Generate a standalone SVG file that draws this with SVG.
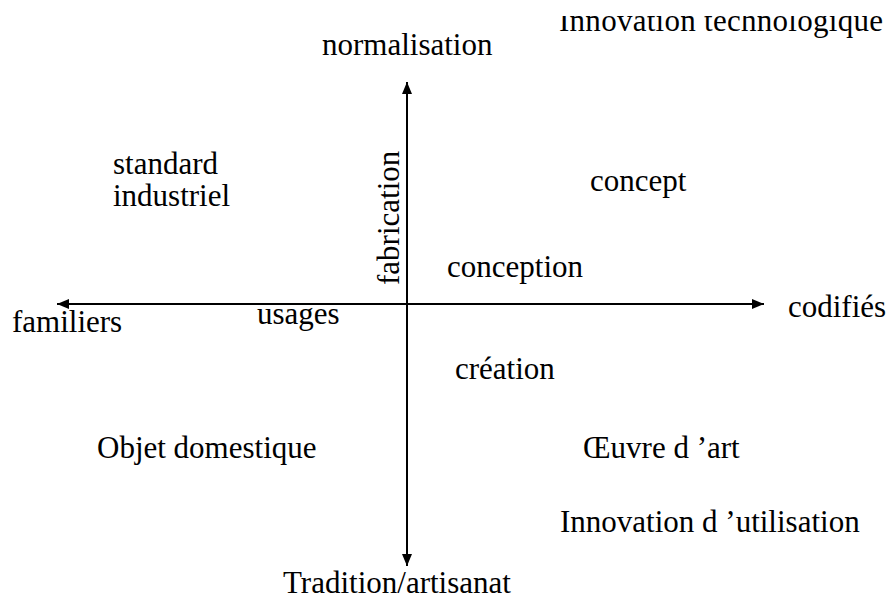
<svg xmlns="http://www.w3.org/2000/svg" width="892" height="600" viewBox="0 0 892 600">
<style>
text{font-family:"Liberation Serif","Times New Roman",serif;font-size:31px;fill:#000}
.axis{stroke:#000;stroke-width:2;fill:none}
</style>
<defs>
<marker id="arr" markerWidth="12" markerHeight="10" refX="12" refY="5" orient="auto" markerUnits="userSpaceOnUse">
<path d="M0,0 L12,5 L0,10 Z" fill="#000"/>
</marker>
<clipPath id="topclip"><rect x="0" y="16" width="892" height="40"/></clipPath>
</defs>
<rect width="892" height="600" fill="#fff"/>
<g id="connectors">
<line class="axis" x1="407" y1="304" x2="57" y2="304" marker-end="url(#arr)"/>
<line class="axis" x1="407" y1="304" x2="764" y2="304" marker-end="url(#arr)"/>
<line class="axis" x1="407" y1="304" x2="407" y2="82" marker-end="url(#arr)"/>
<line class="axis" x1="407" y1="304" x2="407" y2="566" marker-end="url(#arr)"/>
</g>
<g id="innovation-techno" clip-path="url(#topclip)"><text x="559" y="31" textLength="324">Innovation technologique</text></g>
<g id="normalisation"><text x="322" y="55">normalisation</text></g>
<g id="standard"><text x="113" y="174">standard</text><text x="113" y="206">industriel</text></g>
<g id="fabrication"><text transform="translate(399,285) rotate(-90)">fabrication</text></g>
<g id="concept"><text x="590" y="191">concept</text></g>
<g id="conception"><text x="447" y="277">conception</text></g>
<g id="familiers"><text x="12" y="332">familiers</text></g>
<g id="usages"><text x="257" y="324">usages</text></g>
<g id="codifies"><text x="788" y="317">codifiés</text></g>
<g id="creation"><text x="455" y="379">création</text></g>
<g id="objet"><text x="97" y="458">Objet domestique</text></g>
<g id="oeuvre"><text x="583" y="458">Œuvre d ’art</text></g>
<g id="innovation-util"><text x="560" y="532">Innovation d ’utilisation</text></g>
<g id="tradition"><text x="283" y="593">Tradition/artisanat</text></g>
</svg>
